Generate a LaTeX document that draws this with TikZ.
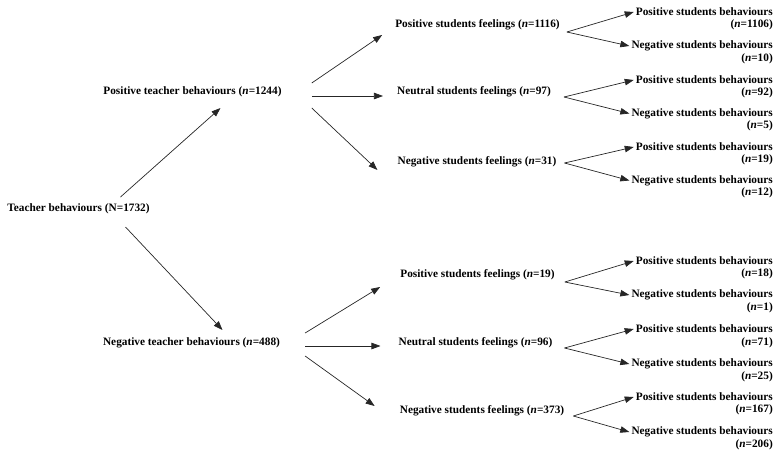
\documentclass[tikz,border=0pt]{standalone}
\usepackage{fontspec}
\setmainfont{Liberation Serif}
\usetikzlibrary{arrows.meta}

\begin{document}
\begin{tikzpicture}[x=1pt,y=-1pt,
		lbl/.style={font=\fontsize{11.3}{13}\selectfont\bfseries, inner sep=2pt},
		leaf/.style={lbl, anchor=east},
		arr/.style={-{Triangle[length=9pt,width=6.5pt]}, line width=0.7pt, black!85}]

		\useasboundingbox (0,0) rectangle (779,453);

		\node[lbl] (root) at (78.5,209) {Teacher behaviours (N=1732)};

		\node[lbl] (pt) at (192.5,92) {Positive teacher behaviours (\textit{n}=1244)};
		\node[lbl] (nt) at (191.5,343) {Negative teacher behaviours (\textit{n}=488)};

		\draw[arr] ([xshift=42pt,yshift=12pt]root.center) -- ([xshift=28pt,yshift=-16pt]pt.center);
		\draw[arr] ([xshift=47pt,yshift=-18pt]root.center) -- ([xshift=31pt,yshift=13pt]nt.center);

		\node[lbl] (pf1) at (477.5,25) {Positive students feelings (\textit{n}=1116)};
		\node[lbl] (uf1) at (474,92) {Neutral students feelings (\textit{n}=97)};
		\node[lbl] (ngf1) at (477,162) {Negative students feelings (\textit{n}=31)};

		\draw[arr] ([xshift=28pt,yshift=9pt]pt.east) -- ([xshift=-11pt,yshift=-10pt]pf1.west);
		\draw[arr] ([xshift=28pt,yshift=-4pt]pt.east) -- ([xshift=-12pt,yshift=-4pt]uf1.west);
		\draw[arr] ([xshift=28pt,yshift=-16pt]pt.east) -- ([xshift=-18pt,yshift=-8pt]ngf1.west);

		\node[lbl] (pf2) at (477.5,275) {Positive students feelings (\textit{n}=19)};
		\node[lbl] (uf2) at (475.5,343) {Neutral students feelings (\textit{n}=96)};
		\node[lbl] (ngf2) at (482,411) {Negative students feelings (\textit{n}=373)};

		\draw[arr] ([xshift=23pt,yshift=10pt]nt.east) -- ([xshift=-18pt,yshift=-12pt]pf2.west);
		\draw[arr] ([xshift=23pt,yshift=-3pt]nt.east) -- ([xshift=-16pt,yshift=-3pt]uf2.west);
		\draw[arr] ([xshift=23pt,yshift=-13pt]nt.east) -- ([xshift=-23pt,yshift=5pt]ngf2.west);

		\node[leaf] (pb1) at (775,12) {Positive students behaviours};
		\node[leaf] (pb1n) at (775,24.5) {(\textit{n}=1106)};
		\node[leaf] (nb1) at (775,46) {Negative students behaviours};
		\node[leaf] (nb1n) at (775,58.5) {(\textit{n}=10)};
		\node[leaf] (pb2) at (775,80) {Positive students behaviours};
		\node[leaf] (pb2n) at (775,92.5) {(\textit{n}=92)};
		\node[leaf] (nb2) at (775,113.5) {Negative students behaviours};
		\node[leaf] (nb2n) at (775,126) {(\textit{n}=5)};
		\node[leaf] (pb3) at (775,147) {Positive students behaviours};
		\node[leaf] (pb3n) at (775,160) {(\textit{n}=19)};
		\node[leaf] (nb3) at (775,180.5) {Negative students behaviours};
		\node[leaf] (nb3n) at (775,193) {(\textit{n}=12)};

		\node[leaf] (pb4) at (775,261) {Positive students behaviours};
		\node[leaf] (pb4n) at (775,273.5) {(\textit{n}=18)};
		\node[leaf] (nb4) at (775,295) {Negative students behaviours};
		\node[leaf] (nb4n) at (775,308) {(\textit{n}=1)};
		\node[leaf] (pb5) at (775,329) {Positive students behaviours};
		\node[leaf] (pb5n) at (775,343) {(\textit{n}=71)};
		\node[leaf] (nb5) at (775,364) {Negative students behaviours};
		\node[leaf] (nb5n) at (775,377) {(\textit{n}=25)};
		\node[leaf] (pb6) at (775,397) {Positive students behaviours};
		\node[leaf] (pb6n) at (775,410) {(\textit{n}=167)};
		\node[leaf] (nb6) at (775,432) {Negative students behaviours};
		\node[leaf] (nb6n) at (775,444.5) {(\textit{n}=206)};

		\draw[arr] ([xshift=5pt,yshift=-7pt]pf1.east) -- (pb1.west);
		\draw[arr] ([xshift=5pt,yshift=-7pt]pf1.east) -- (nb1.west);
		\draw[arr] ([xshift=11pt,yshift=-5pt]uf1.east) -- (pb2.west);
		\draw[arr] ([xshift=11pt,yshift=-5pt]uf1.east) -- (nb2.west);
		\draw[arr] ([xshift=6pt,yshift=-1pt]ngf1.east) -- (pb3.west);
		\draw[arr] ([xshift=6pt,yshift=-1pt]ngf1.east) -- (nb3.west);

		\draw[arr] ([xshift=8pt,yshift=-7pt]pf2.east) -- (pb4.west);
		\draw[arr] ([xshift=8pt,yshift=-7pt]pf2.east) -- (nb4.west);
		\draw[arr] ([xshift=10pt,yshift=-5pt]uf2.east) -- (pb5.west);
		\draw[arr] ([xshift=10pt,yshift=-5pt]uf2.east) -- (nb5.west);
		\draw[arr] ([xshift=7pt,yshift=-5pt]ngf2.east) -- (pb6.west);
		\draw[arr] ([xshift=7pt,yshift=-5pt]ngf2.east) -- (nb6.west);

	\end{tikzpicture}
\end{document}
